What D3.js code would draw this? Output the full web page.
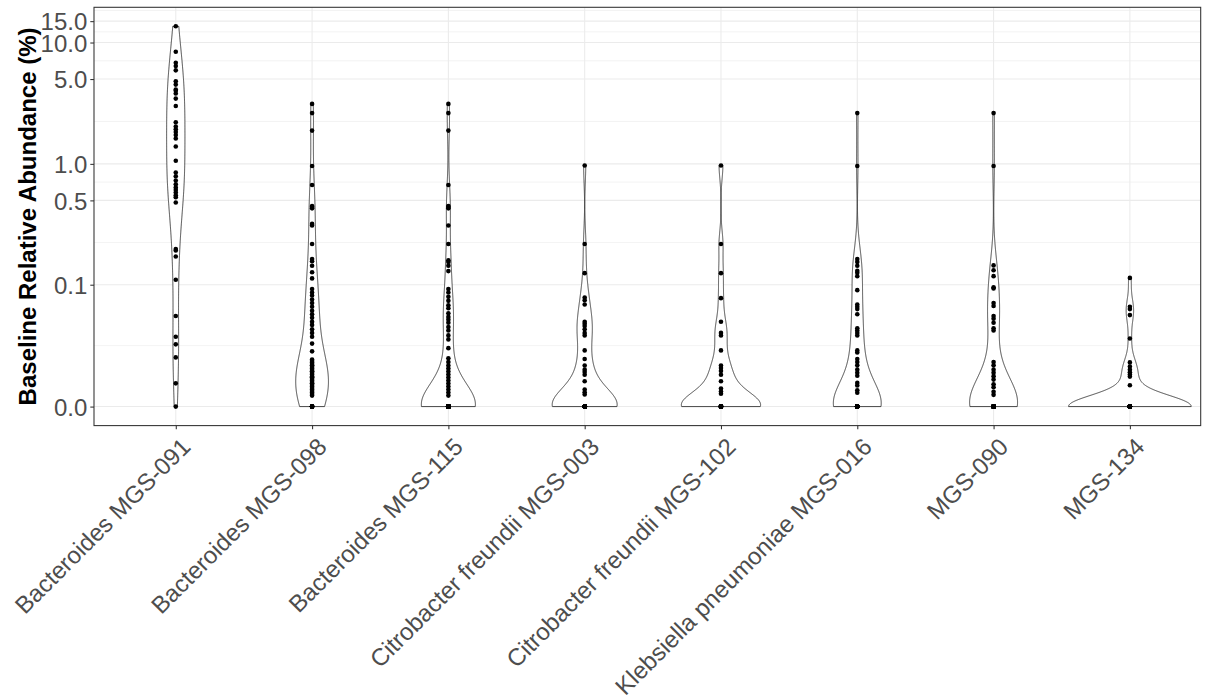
<!DOCTYPE html>
<html lang="en">
<head>
<meta charset="UTF-8">
<title>Baseline Relative Abundance</title>
<script src="https://d3js.org/d3.v7.min.js"></script>
<style>
    body { margin: 0; background: #fff; }
    svg text { font-family: "Liberation Sans", Arial, sans-serif; }
    .axis text { font-size: 24px; fill: #4d4d4d; }
    .axis line { stroke: #333333; stroke-width: 1.07px; }
    .axis path { display: none; }
    .grid-major { stroke: #ebebeb; stroke-width: 1.07px; }
    .grid-minor { stroke: #ebebeb; stroke-width: 0.6px; }
    .violin { fill: #fff; stroke: #333333; stroke-width: 0.9px; }
    .dot { fill: #000; }
    .y-title { font-size: 24px; font-weight: bold; fill: #000; }
</style>
</head>
<body>
<svg id="chart"></svg>
<script>
// categories (x axis)
var categories = [
    "Bacteroides MGS-091",
    "Bacteroides MGS-098",
    "Bacteroides MGS-115",
    "Citrobacter freundii MGS-003",
    "Citrobacter freundii MGS-102",
    "Klebsiella pneumoniae MGS-016",
    "MGS-090",
    "MGS-134"
];

// baseline relative abundance (%) per sample
var mgs091 = [13.6, 8.4, 6.8, 6.4, 5.9, 4.8, 4.5, 4.1, 4.0, 3.8, 3.45, 3.0, 2.2, 2.03, 1.93, 1.83,
    1.73, 1.62, 1.39, 1.06, 0.85, 0.79, 0.73, 0.68, 0.64, 0.61, 0.58, 0.55, 0.53, 0.48,
    0.198, 0.193, 0.172, 0.110, 0.054, 0.035, 0.0295, 0.0215, 0.0091, 0];
var mgs098 = [3.12, 2.62, 1.88, 0.96, 0.67, 0.45, 0.44, 0.43, 0.32, 0.31, 0.218, 0.164, 0.157,
    0.144, 0.127, 0.113, 0.092, 0.086, 0.081, 0.075, 0.070, 0.065, 0.060, 0.056, 0.052, 0.048,
    0.045, 0.041, 0.038, 0.035, 0.030, 0.025,
    0.0203, 0.0195, 0.0187, 0.018, 0.0172, 0.0172, 0.0165, 0.0157, 0.015, 0.0143, 0.0143, 0.0136,
    0.0129, 0.0122, 0.0116, 0.0116, 0.011, 0.0103, 0.0097, 0.0090, 0.0090, 0.0084, 0.0078, 0.0072,
    0.0066, 0.006, 0.0054, 0.0048, 0.0042,
    0, 0, 0, 0, 0, 0, 0, 0, 0, 0, 0];
var mgs115 = [3.12, 2.62, 1.88, 0.67, 0.45, 0.44, 0.43, 0.31, 0.218, 0.16, 0.155, 0.144, 0.13,
    0.092, 0.086, 0.079, 0.073, 0.067, 0.063, 0.057, 0.053, 0.050, 0.047, 0.043, 0.040, 0.036,
    0.033, 0.027, 0.021, 0.019, 0.0172, 0.0157, 0.0143, 0.0129, 0.0116, 0.0103, 0.0090, 0.0078,
    0.0066, 0.0054, 0.0042,
    0, 0, 0, 0, 0, 0, 0, 0, 0, 0, 0, 0, 0, 0, 0, 0, 0, 0, 0, 0, 0, 0, 0, 0, 0, 0, 0, 0,
    0, 0, 0, 0, 0, 0, 0, 0, 0, 0, 0, 0, 0, 0, 0, 0, 0, 0, 0, 0, 0, 0, 0, 0, 0, 0, 0, 0];
var cf003 = [0.97, 0.218, 0.125, 0.078, 0.074, 0.068, 0.048, 0.046, 0.044, 0.041, 0.038, 0.036,
    0.0256, 0.0206, 0.0172, 0.0152, 0.0141, 0.0128, 0.0100, 0.0066, 0.0055, 0.0046,
    0, 0, 0, 0, 0, 0, 0, 0, 0, 0, 0, 0, 0, 0,
    0, 0, 0, 0, 0, 0, 0, 0, 0, 0, 0, 0, 0, 0];
var cf102 = [0.97, 0.218, 0.125, 0.077, 0.048, 0.038, 0.036, 0.0256, 0.0172, 0.016, 0.0146,
    0.0128, 0.0100, 0.0070, 0.0058, 0.0049,
    0, 0, 0, 0, 0, 0, 0, 0, 0, 0, 0, 0, 0, 0, 0, 0, 0, 0, 0];
var kp016 = [2.62, 0.96, 0.164, 0.155, 0.144, 0.131, 0.126, 0.118, 0.090, 0.068, 0.065, 0.062,
    0.056, 0.042, 0.040, 0.038, 0.036, 0.0256, 0.0243, 0.0206, 0.0190, 0.0173, 0.0152, 0.0137,
    0.0124, 0.0093, 0.0082, 0.0063, 0.0053,
    0, 0, 0, 0, 0, 0, 0, 0, 0, 0, 0, 0, 0, 0, 0, 0,
    0, 0, 0, 0, 0, 0, 0, 0, 0, 0, 0, 0, 0, 0, 0, 0];
var mgs090 = [2.62, 0.96, 0.145, 0.132, 0.118, 0.095, 0.093, 0.070, 0.066, 0.054, 0.051, 0.047,
    0.042, 0.040, 0.019, 0.0173, 0.0152, 0.0137, 0.0122, 0.0107, 0.0087, 0.0075, 0.0057, 0.0045,
    0, 0, 0, 0, 0, 0, 0, 0, 0, 0, 0, 0, 0, 0,
    0, 0, 0, 0, 0, 0, 0, 0, 0, 0, 0, 0, 0, 0];
var mgs134 = [0.114, 0.065, 0.062, 0.055, 0.0336, 0.0188, 0.0167, 0.0152, 0.014, 0.0129, 0.0120,
    0.0083,
    0, 0, 0, 0, 0, 0, 0, 0, 0, 0, 0, 0, 0, 0, 0, 0, 0, 0, 0, 0, 0, 0, 0, 0,
    0, 0, 0, 0, 0, 0, 0, 0, 0, 0, 0, 0, 0, 0, 0, 0, 0, 0, 0, 0, 0, 0, 0, 0];

var groups = [mgs091, mgs098, mgs115, cf003, cf102, kp016, mgs090, mgs134];

// y axis breaks and labels
var yBreaks = [0, 0.1, 0.5, 1, 5, 10, 15];
var yLabels = ["0.0", "0.1", "0.5", "1.0", "5.0", "10.0", "15.0"];

// pseudo-log transform (sigma = 0.01, base 10)
function pseudoLog(v) { return Math.asinh(v / 0.02) / Math.LN10; }

var W = 1208, H = 699;
var pLeft = 94, pTop = 7.3, pBottom = 425.6, pRight = 1200.7;
var step = 136.3;

var svg = d3.select("#chart").attr("width", W).attr("height", H);

var x = d3.scalePoint()
    .domain(categories)
    .range([pLeft, pLeft + 8.2 * step])
    .padding(0.6);

var tMax = d3.max(groups, g => d3.max(g, pseudoLog));
var tMin = 0;
var pad = (tMax - tMin) * 0.05;
var y = d3.scaleLinear()
    .domain([tMin - pad, tMax + pad])
    .range([pBottom, pTop]);

// minor breaks: midpoints between majors (transformed space)
var tb = yBreaks.map(pseudoLog);
var ext = tb.slice();
ext.push(tb[tb.length - 1] + (tb[tb.length - 1] - tb[tb.length - 2]));
var minor = [];
for (var i = 0; i < ext.length - 1; i++) {
    var m = (ext[i] + ext[i + 1]) / 2;
    if (y(m) >= pTop && y(m) <= pBottom) minor.push(m);
}

svg.append("defs").append("clipPath").attr("id", "panel")
    .append("rect").attr("x", pLeft).attr("y", pTop)
    .attr("width", pRight - pLeft).attr("height", pBottom - pTop);

var panel = svg.append("g").attr("clip-path", "url(#panel)");

panel.selectAll(".grid-minor").data(minor).enter().append("line")
    .attr("class", "grid-minor")
    .attr("x1", pLeft).attr("x2", pRight)
    .attr("y1", d => y(d)).attr("y2", d => y(d));

panel.selectAll(".grid-h").data(tb).enter().append("line")
    .attr("class", "grid-major")
    .attr("x1", pLeft).attr("x2", pRight)
    .attr("y1", d => y(d)).attr("y2", d => y(d));

panel.selectAll(".grid-v").data(categories).enter().append("line")
    .attr("class", "grid-major")
    .attr("x1", d => x(d)).attr("x2", d => x(d))
    .attr("y1", pTop).attr("y2", pBottom);

// kernel density, gaussian, bw.nrd0, trimmed to data range
function bwNrd0(xs) {
    var hi = d3.deviation(xs);
    var lo = Math.min(hi, (d3.quantile(xs, 0.75) - d3.quantile(xs, 0.25)) / 1.34);
    if (!lo) lo = hi || Math.abs(xs[0]) || 1;
    return 0.9 * lo * Math.pow(xs.length, -0.2);
}

var dens = groups.map(function(g) {
    var ts = g.map(pseudoLog);
    var bw = bwNrd0(ts);
    var lo = d3.min(ts), hi = d3.max(ts);
    var n = ts.length;
    return d3.range(512).map(function(k) {
        var t = lo + (hi - lo) * k / 511;
        var s = 0;
        ts.forEach(function(v) {
            var z = (t - v) / bw;
            s += Math.exp(-0.5 * z * z);
        });
        return { t: t, d: s / (n * bw * Math.sqrt(2 * Math.PI)) };
    });
});

// scale = "area": widths relative to the largest density of all groups
var maxDens = d3.max(dens, g => d3.max(g, d => d.d));
var halfW = 0.45 * x.step();

dens.forEach(function(g, i) {
    var cx = x(categories[i]);
    var area = d3.area()
        .y(d => y(d.t))
        .x0(d => cx - d.d / maxDens * halfW)
        .x1(d => cx + d.d / maxDens * halfW);
    panel.append("path")
        .datum(g)
        .attr("class", "violin")
        .attr("d", area);
});

groups.forEach(function(g, i) {
    panel.selectAll(".dot-" + i).data(g).enter().append("circle")
        .attr("class", "dot")
        .attr("cx", x(categories[i]))
        .attr("cy", d => y(pseudoLog(d)))
        .attr("r", 2.3);
});

svg.append("rect")
    .attr("x", pLeft).attr("y", pTop)
    .attr("width", pRight - pLeft).attr("height", pBottom - pTop)
    .attr("fill", "none").attr("stroke", "#333333").attr("stroke-width", 1.07);

// y axis
var yAxis = svg.append("g")
    .attr("class", "axis")
    .attr("transform", "translate(" + pLeft + ",0)")
    .call(d3.axisLeft(y).tickValues(tb).tickSize(3.7).tickPadding(3)
        .tickFormat((d, i) => yLabels[i]));
yAxis.selectAll("text").attr("dy", "0.36em");

// x axis
svg.append("g")
    .attr("class", "axis")
    .attr("transform", "translate(0," + pBottom + ")")
    .call(d3.axisBottom(x).tickSize(3.7).tickFormat(""));

svg.append("g").selectAll("text").data(categories).enter().append("text")
    .attr("transform", d => "translate(" + x(d) + "," + (pBottom + 6.6) + ") rotate(-45)")
    .attr("text-anchor", "end")
    .attr("dy", "0.95em")
    .style("font-size", "24px")
    .style("fill", "#4d4d4d")
    .text(d => d);

// y title
svg.append("text")
    .attr("class", "y-title")
    .attr("transform", "translate(36," + ((pTop + pBottom) / 2) + ") rotate(-90)")
    .attr("text-anchor", "middle")
    .text("Baseline Relative Abundance (%)");
</script>
</body>
</html>
